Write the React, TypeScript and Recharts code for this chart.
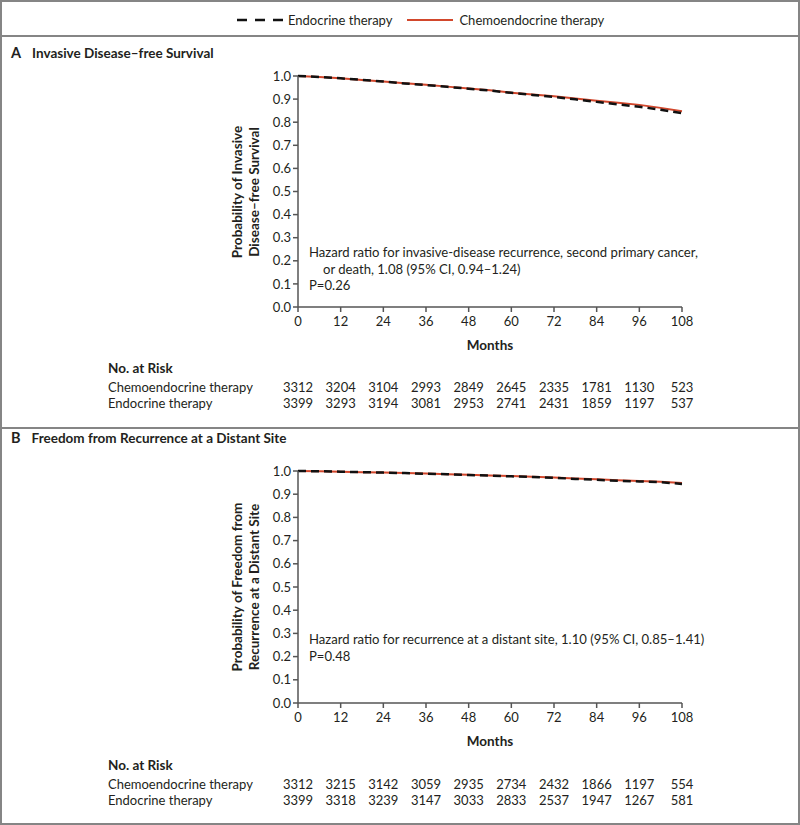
import React from "react";
import { LineChart, Line, XAxis, YAxis } from "recharts";

const months = [0, 6, 12, 18, 24, 30, 36, 42, 48, 54, 60, 66, 72, 78, 84, 90, 96, 102, 108];

// Panel A: invasive disease-free survival
const idfsChemo = [1.0, 0.996, 0.99, 0.983, 0.976, 0.969, 0.962, 0.954, 0.946, 0.938, 0.928, 0.92, 0.912, 0.903, 0.893, 0.884, 0.875, 0.862, 0.847];
const idfsEndo = [1.0, 0.996, 0.99, 0.983, 0.976, 0.968, 0.961, 0.953, 0.945, 0.937, 0.927, 0.918, 0.909, 0.899, 0.888, 0.877, 0.867, 0.854, 0.839];

// Panel B: freedom from distant recurrence
const distChemo = [1.0, 0.999, 0.997, 0.995, 0.993, 0.991, 0.989, 0.986, 0.984, 0.981, 0.978, 0.975, 0.972, 0.968, 0.964, 0.96, 0.957, 0.954, 0.948];
const distEndo = [1.0, 0.999, 0.997, 0.995, 0.993, 0.991, 0.988, 0.986, 0.983, 0.98, 0.977, 0.974, 0.971, 0.966, 0.962, 0.958, 0.955, 0.952, 0.944];

const xTicks = [0, 12, 24, 36, 48, 60, 72, 84, 96, 108];
const yTicks = [0, 0.1, 0.2, 0.3, 0.4, 0.5, 0.6, 0.7, 0.8, 0.9, 1.0];

const idfsRiskChemo = [3312, 3204, 3104, 2993, 2849, 2645, 2335, 1781, 1130, 523];
const idfsRiskEndo = [3399, 3293, 3194, 3081, 2953, 2741, 2431, 1859, 1197, 537];
const distRiskChemo = [3312, 3215, 3142, 3059, 2935, 2734, 2432, 1866, 1197, 554];
const distRiskEndo = [3399, 3318, 3239, 3147, 3033, 2833, 2537, 1947, 1267, 581];

const FONT = "Lato, 'Liberation Sans', Arial, sans-serif";
const RED = "#d2472c";
const AXIS = "#555";
const TEXT = "#231f20";
const PLOT_L = 298;
const PLOT_R = 682;

function buildRows(chemo: number[], endo: number[]) {
  return months.map((m, i) => ({ m, chemo: chemo[i], endo: endo[i] }));
}

interface PanelProps {
  letter: string;
  title: string;
  titleY: number;
  yLabel: string[];
  plotTop: number;
  plotBottom: number;
  chemo: number[];
  endo: number[];
  hazard: string[];
  hazardY: number;
  pText: string;
  riskChemo: number[];
  riskEndo: number[];
  monthsY: number;
  riskY: number;
}

function Panel(p: PanelProps) {
  const rows = buildRows(p.chemo, p.endo);
  const h = p.plotBottom - p.plotTop;
  const chartTop = p.plotTop - 10;
  const xOf = (m: number) => PLOT_L + ((PLOT_R - PLOT_L) * m) / 108;
  const midY = (p.plotTop + p.plotBottom) / 2;
  return (
    <>
      <div style={{ position: "absolute", left: 11, top: p.titleY - 10, fontSize: 14.5, fontWeight: 700, color: TEXT, whiteSpace: "nowrap" }}>
        {p.letter}
        <span style={{ marginLeft: 11, fontSize: 13.5 }}>{p.title}</span>
      </div>
      <div style={{ position: "absolute", left: 0, top: chartTop }}>
        <LineChart
          width={800}
          height={h + 10 + 30}
          data={rows}
          margin={{ top: 10, right: 800 - PLOT_R, bottom: 0, left: 0 }}
        >
          <XAxis
            dataKey="m"
            type="number"
            domain={[0, 108]}
            ticks={xTicks}
            interval={0}
            tickSize={5}
            tickMargin={5}
            height={30}
            stroke={AXIS}
            strokeWidth={1.5}
            tick={{ fill: TEXT, fontSize: 13, fontFamily: FONT }}
          />
          <YAxis
            type="number"
            domain={[0, 1]}
            ticks={yTicks}
            interval={0}
            width={PLOT_L}
            tickSize={5}
            tickMargin={2}
            stroke={AXIS}
            strokeWidth={1.5}
            tickFormatter={(v: number) => v.toFixed(1)}
            tick={{ fill: TEXT, fontSize: 13, fontFamily: FONT }}
          />
          <Line type="linear" dataKey="chemo" stroke={RED} strokeWidth={2} dot={false} isAnimationActive={false} />
          <Line type="linear" dataKey="endo" stroke="#111" strokeWidth={2.5} strokeDasharray="8 5" dot={false} isAnimationActive={false} />
        </LineChart>
      </div>
      <div
        style={{
          position: "absolute",
          left: 246 - 130,
          top: midY - 17,
          width: 260,
          height: 34,
          lineHeight: "17px",
          textAlign: "center",
          transform: "rotate(-90deg)",
          fontSize: 13.5,
          fontWeight: 700,
          color: TEXT,
          whiteSpace: "nowrap",
        }}
      >
        {p.yLabel[0]}
        <br />
        {p.yLabel[1]}
      </div>
      <div style={{ position: "absolute", left: 309, top: p.hazardY - 9, fontSize: 13.1, lineHeight: "16.5px", color: TEXT, whiteSpace: "nowrap" }}>
        <div>{p.hazard[0]}</div>
        {p.hazard[1] && <div style={{ paddingLeft: 14 }}>{p.hazard[1]}</div>}
        <div>{p.pText}</div>
      </div>
      <div style={{ position: "absolute", left: PLOT_L, width: PLOT_R - PLOT_L, top: p.monthsY - 8, textAlign: "center", fontSize: 13.5, fontWeight: 700, color: TEXT }}>
        Months
      </div>
      <div style={{ position: "absolute", left: 108, top: p.riskY - 9, fontSize: 13.5, fontWeight: 700, color: TEXT }}>No. at Risk</div>
      <div style={{ position: "absolute", left: 108, top: p.riskY + 10, fontSize: 13, color: TEXT }}>Chemoendocrine therapy</div>
      <div style={{ position: "absolute", left: 108, top: p.riskY + 26, fontSize: 13, color: TEXT }}>Endocrine therapy</div>
      {xTicks.map((m, i) => (
        <React.Fragment key={m}>
          <div style={{ position: "absolute", left: xOf(m) - 30, width: 60, top: p.riskY + 10, textAlign: "center", fontSize: 13, color: TEXT }}>
            {p.riskChemo[i]}
          </div>
          <div style={{ position: "absolute", left: xOf(m) - 30, width: 60, top: p.riskY + 26, textAlign: "center", fontSize: 13, color: TEXT }}>
            {p.riskEndo[i]}
          </div>
        </React.Fragment>
      ))}
    </>
  );
}

export default function App() {
  return (
    <div
      style={{
        position: "absolute",
        left: 0,
        top: 0,
        width: 800,
        height: 825,
        boxSizing: "border-box",
        border: "2px solid #858585",
        background: "#fff",
        fontFamily: FONT,
        overflow: "hidden",
      }}
    >
      <div style={{ position: "absolute", left: 235, top: 0, height: 36, display: "flex", alignItems: "center", fontSize: 13, color: TEXT, whiteSpace: "nowrap" }}>
        <svg width={46} height={6} style={{ marginRight: 5 }}>
          <line x1={0} y1={3} x2={46} y2={3} stroke="#111" strokeWidth={2.5} strokeDasharray="10 8" />
        </svg>
        <span>Endocrine therapy</span>
        <svg width={46} height={6} style={{ marginLeft: 15, marginRight: 6 }}>
          <line x1={0} y1={3} x2={46} y2={3} stroke={RED} strokeWidth={2} />
        </svg>
        <span>Chemoendocrine therapy</span>
      </div>
      <div style={{ position: "absolute", left: 0, top: 33, width: 796, height: 2, background: "#858585" }} />
      <div style={{ position: "absolute", left: 0, top: 425, width: 796, height: 2, background: "#858585" }} />
      <div style={{ position: "absolute", left: -2, top: -2, width: 800, height: 825 }}>
        <Panel
          letter="A"
          title="Invasive Disease–free Survival"
          titleY={54}
          yLabel={["Probability of Invasive", "Disease–free Survival"]}
          plotTop={76}
          plotBottom={307}
          chemo={idfsChemo}
          endo={idfsEndo}
          hazard={["Hazard ratio for invasive-disease recurrence, second primary cancer,", "or death, 1.08 (95% CI, 0.94–1.24)"]}
          hazardY={253}
          pText="P=0.26"
          riskChemo={idfsRiskChemo}
          riskEndo={idfsRiskEndo}
          monthsY={345}
          riskY={369}
        />
        <Panel
          letter="B"
          title="Freedom from Recurrence at a Distant Site"
          titleY={439}
          yLabel={["Probability of Freedom from", "Recurrence at a Distant Site"]}
          plotTop={471}
          plotBottom={703}
          chemo={distChemo}
          endo={distEndo}
          hazard={["Hazard ratio for recurrence at a distant site, 1.10 (95% CI, 0.85–1.41)"]}
          hazardY={640}
          pText="P=0.48"
          riskChemo={distRiskChemo}
          riskEndo={distRiskEndo}
          monthsY={741}
          riskY={766}
        />
      </div>
    </div>
  );
}
